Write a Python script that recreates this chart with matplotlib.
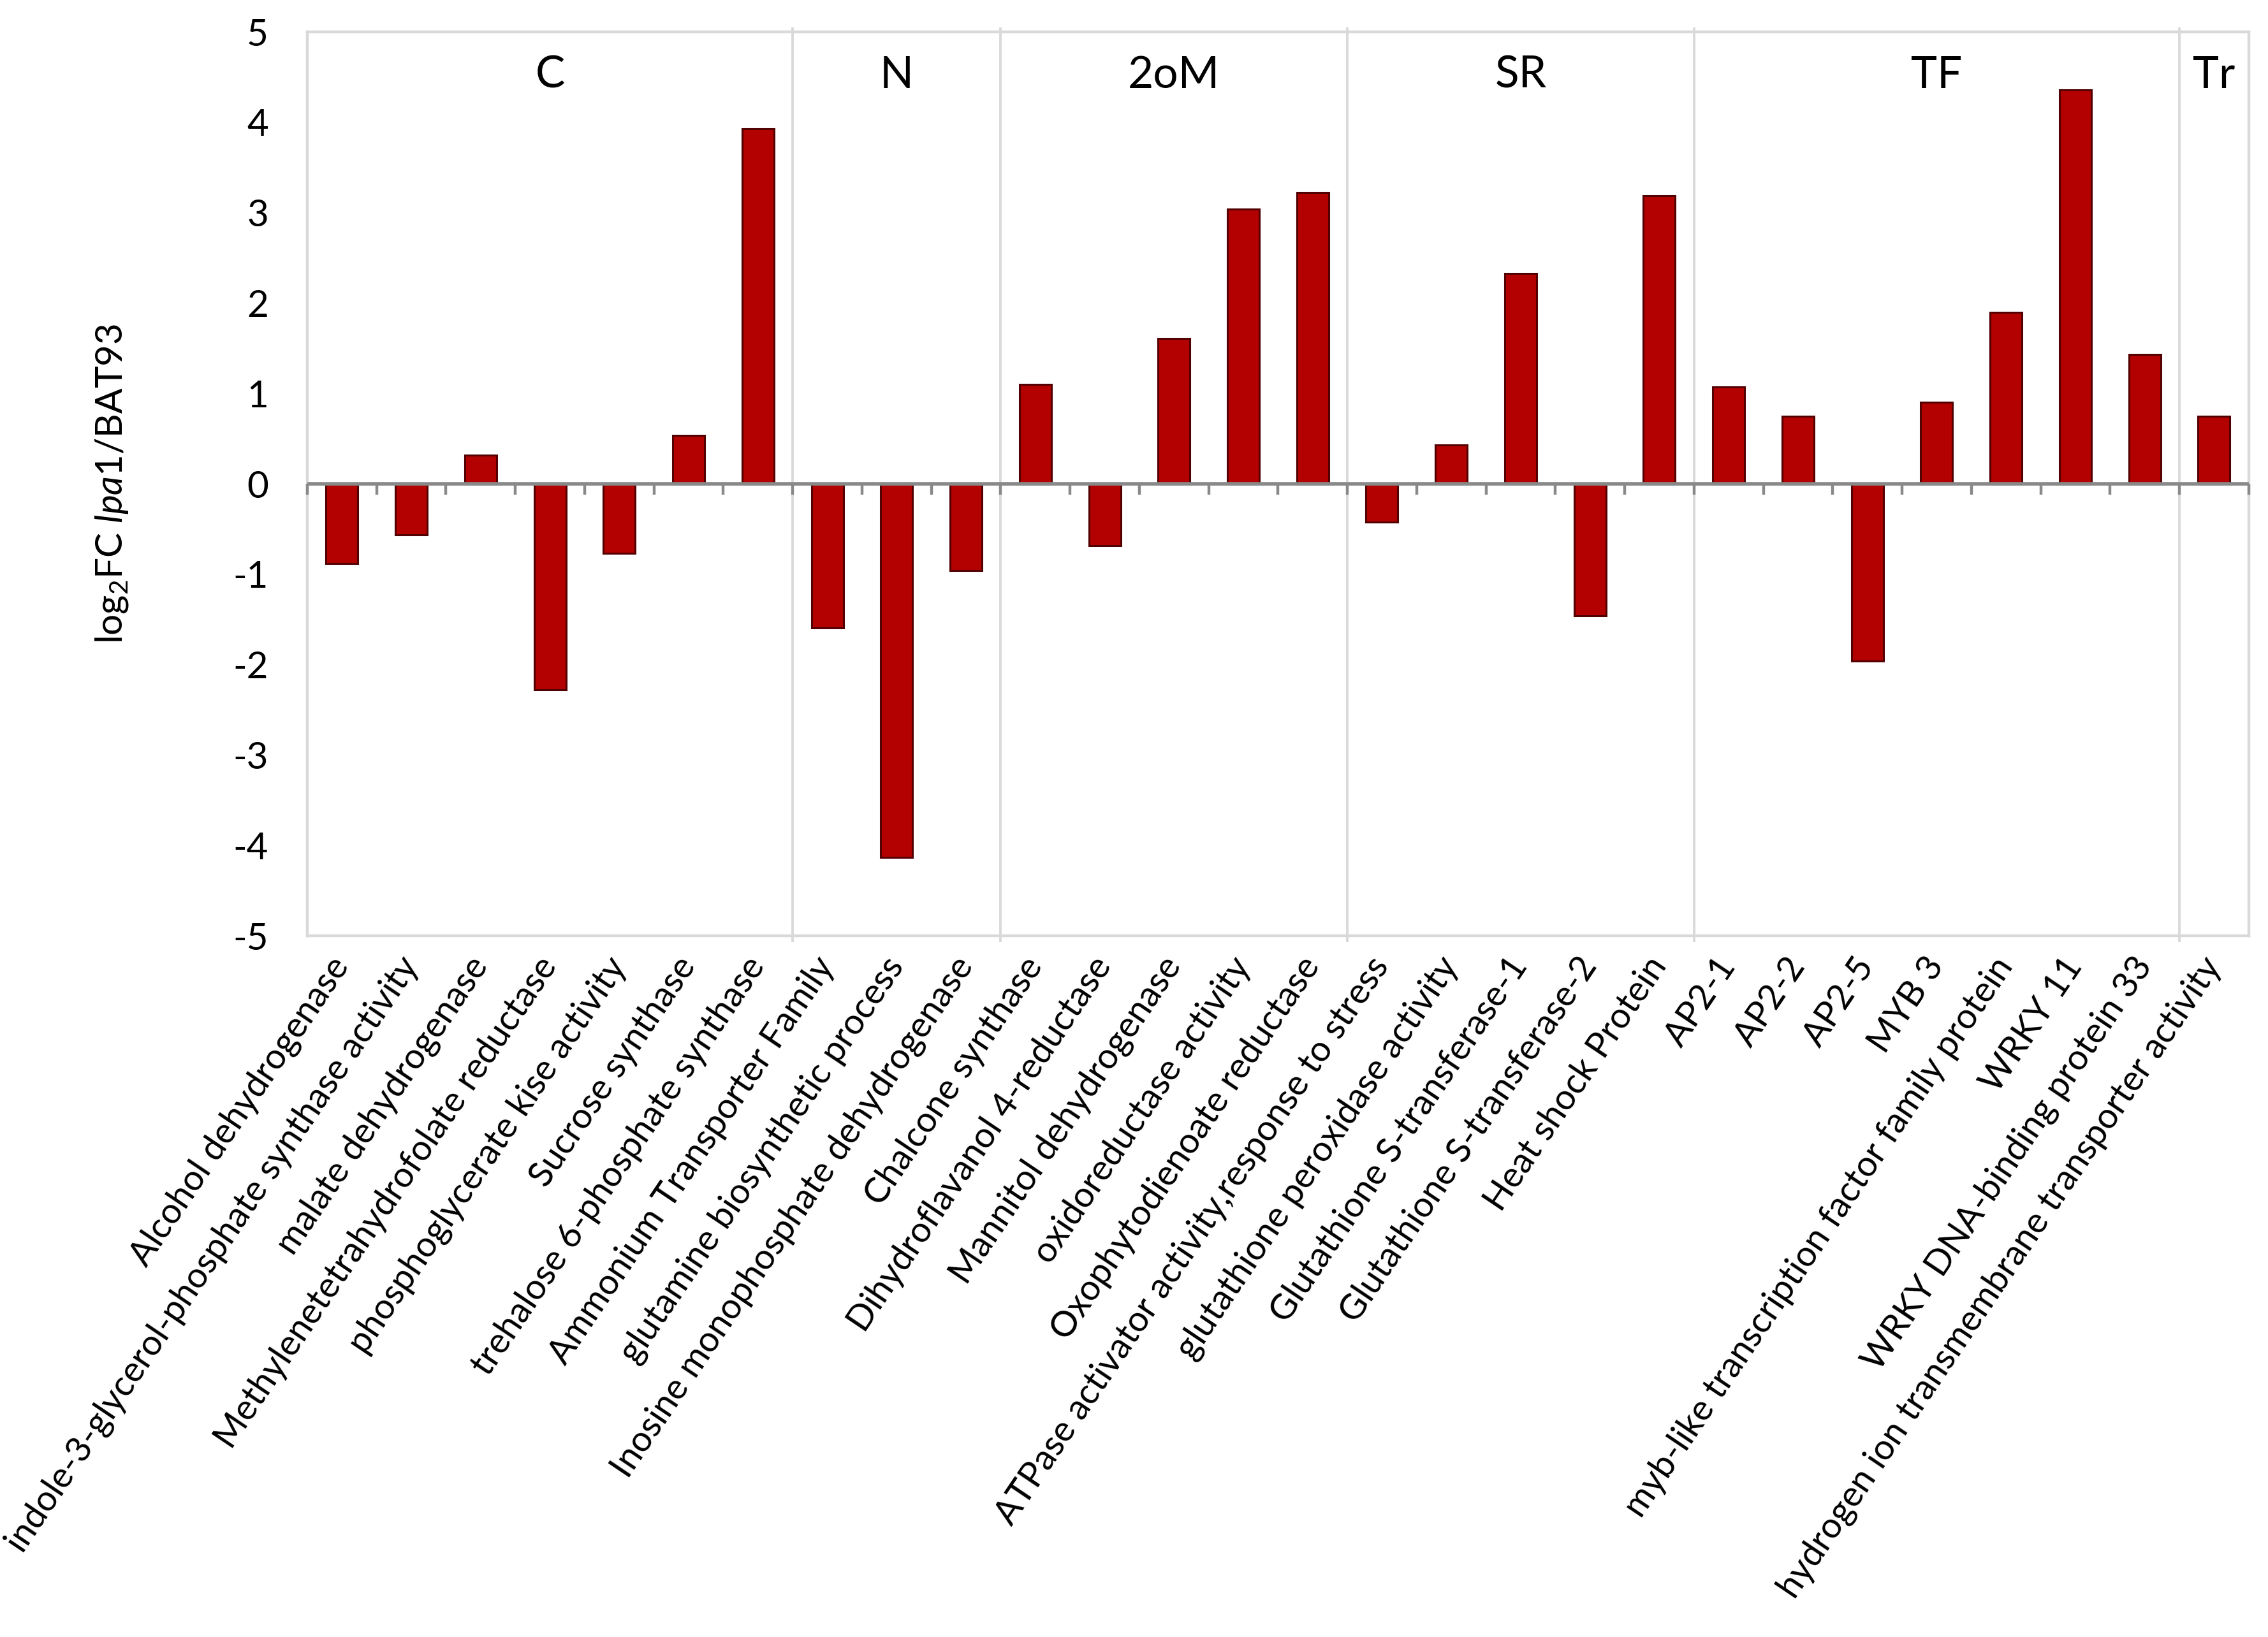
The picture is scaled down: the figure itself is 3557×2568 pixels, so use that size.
import matplotlib
matplotlib.use("Agg")
import matplotlib.pyplot as plt
import numpy as np

categories = [
    "Alcohol dehydrogenase",
    "indole-3-glycerol-phosphate synthase activity",
    "malate dehydrogenase",
    "Methylenetetrahydrofolate reductase",
    "phosphoglycerate kise activity",
    "Sucrose synthase",
    "trehalose 6-phosphate synthase",
    "Ammonium Transporter Family",
    "glutamine biosynthetic process",
    "Inosine monophosphate dehydrogenase",
    "Chalcone synthase",
    "Dihydroflavanol 4-reductase",
    "Mannitol dehydrogenase",
    "oxidoreductase activity",
    "Oxophytodienoate reductase",
    "ATPase activator activity,response to stress",
    "glutathione peroxidase activity",
    "Glutathione S-transferase-1",
    "Glutathione S-transferase-2",
    "Heat shock Protein",
    "AP2-1",
    "AP2-2",
    "AP2-5",
    "MYB 3",
    "myb-like transcription factor family protein",
    "WRKY 11",
    "WRKY DNA-binding protein 33",
    "hydrogen ion transmembrane transporter activity",
]
values = [-0.88, -0.56, 0.32, -2.28, -0.77, 0.54, 3.93,
          -1.59, -4.13, -0.96,
          1.10, -0.68, 1.61, 3.04, 3.22,
          -0.42, 0.43, 2.33, -1.46, 3.19,
          1.07, 0.75, -1.96, 0.90, 1.90, 4.36, 1.43,
          0.75]
groups = ["C", "N", "2oM", "SR", "TF", "Tr"]
group_sizes = [7, 3, 5, 5, 7, 1]
yticks = [-5, -4, -3, -2, -1, 0, 1, 2, 3, 4, 5]

plt.rcParams['font.family'] = ['Lato', 'DejaVu Sans']
plt.rcParams['mathtext.fontset'] = 'custom'
plt.rcParams['mathtext.rm'] = 'Lato'
plt.rcParams['mathtext.it'] = 'Lato:italic'

fig = plt.figure(figsize=(3557/200, 2568/200), dpi=200)
ax = fig.add_axes([0.1355, 0.4283, 0.9915-0.1355, 0.9805-0.4283])

x = np.arange(len(categories))
ax.bar(x, values, width=0.46, color="#B30000", edgecolor="#520000",
       linewidth=1.1, zorder=3)

ax.set_xlim(-0.5, len(categories) - 0.5)
ax.set_ylim(-5, 5)
ax.set_yticks(yticks)
ax.set_yticklabels([str(v) for v in yticks])
ax.tick_params(axis='y', length=0, pad=22, labelsize=21)

ax.set_xticks(x)
ax.set_xticklabels(categories, rotation=56, rotation_mode='anchor',
                   ha='right', va='center', fontsize=20)
ax.tick_params(axis='x', length=0, pad=14)

for s in ax.spines.values():
    s.set_color("#D9D9D9")
    s.set_linewidth(1.6)

# zero line with category boundary ticks
ax.axhline(0, color="#898989", linewidth=2.0, zorder=4)
bounds = np.arange(len(categories) + 1) - 0.5
ax.vlines(bounds, -0.12, 0, color="#898989", linewidth=1.6, zorder=4, clip_on=False)

# group separators and labels
edges = np.concatenate([[0], np.cumsum(group_sizes)]) - 0.5
for e in edges[1:-1]:
    ax.vlines(e, -5.07, 5.05, color="#D9D9D9", linewidth=1.4, zorder=1, clip_on=False)
for g, a, b in zip(groups, edges[:-1], edges[1:]):
    ax.text((a + b) / 2, 4.52, g, ha='center', va='center', fontsize=25)

ax.set_ylabel(r'log$_2$FC $\mathit{lpa1}$/BAT93', fontsize=21, labelpad=58)

fig.savefig("out.png", dpi=200)
